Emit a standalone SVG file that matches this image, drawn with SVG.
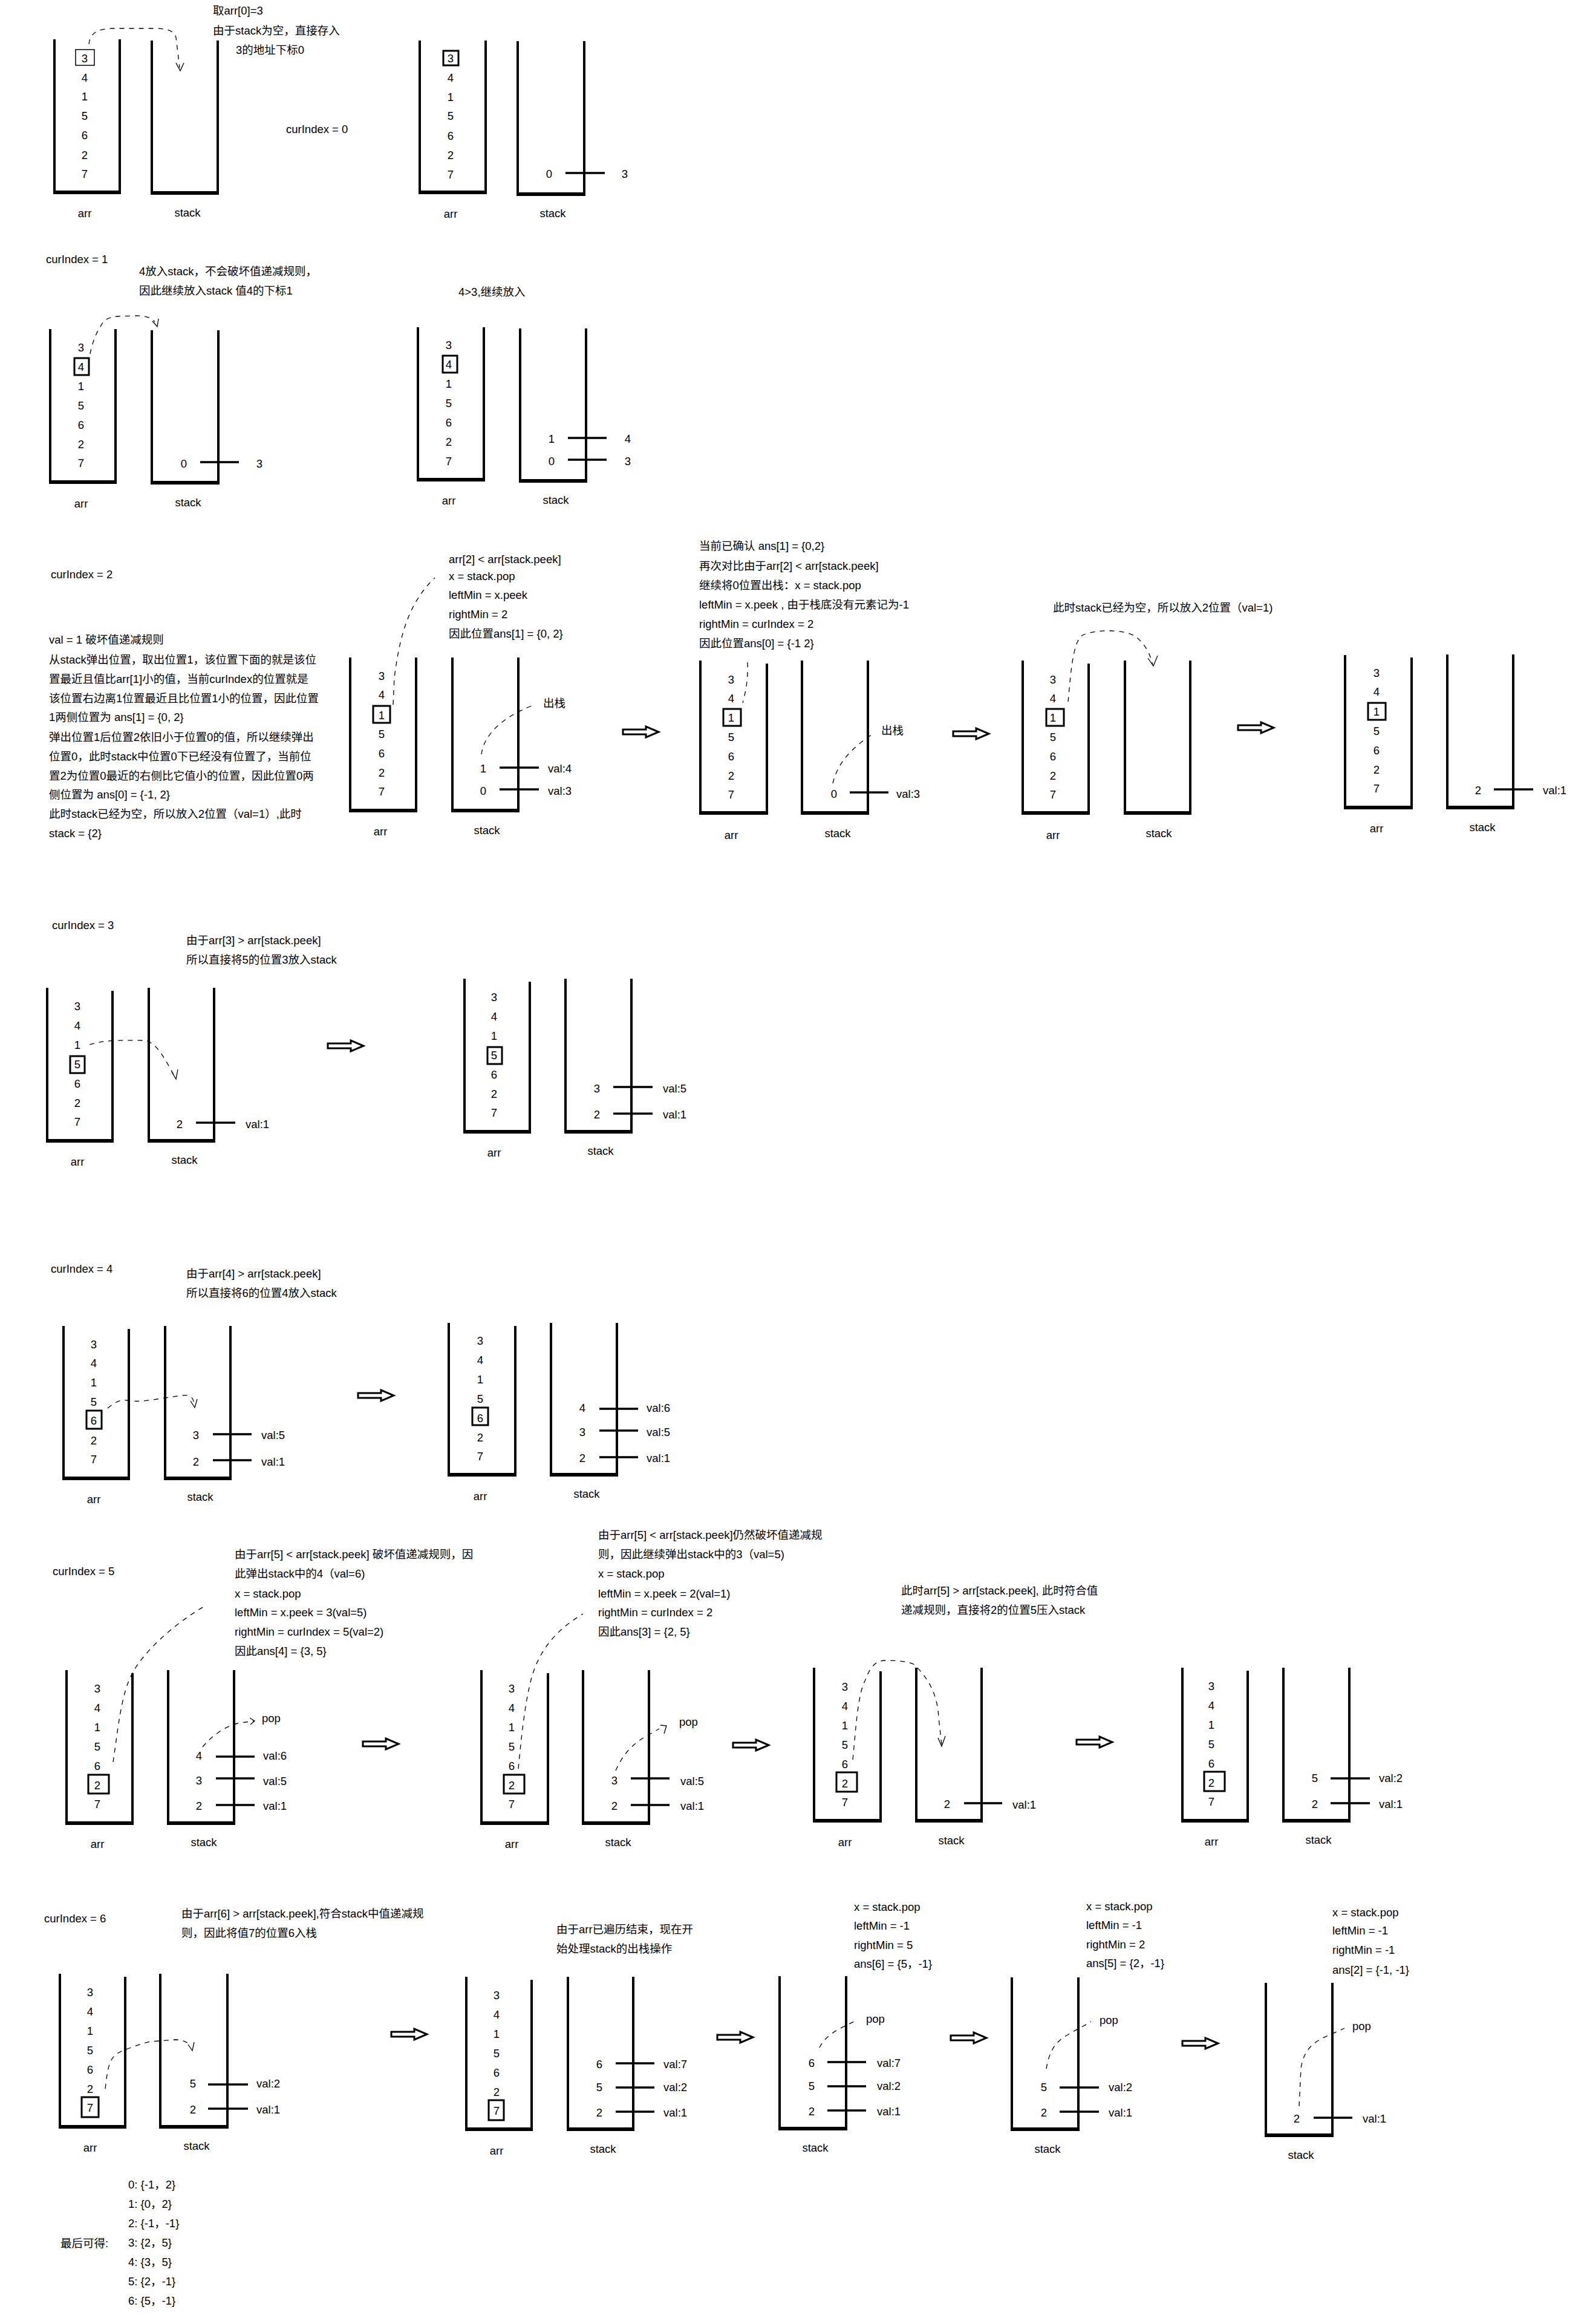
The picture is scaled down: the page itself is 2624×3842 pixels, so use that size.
<svg xmlns="http://www.w3.org/2000/svg" width="2624" height="3842" viewBox="0 0 2624 3842">
<style>
.w{fill:none;stroke:#000;stroke-width:4}
.b{stroke:#000;stroke-width:6}
.t{font-family:"Liberation Sans","Noto Sans CJK SC",sans-serif;font-size:18.5px;fill:#000;dominant-baseline:central}
.m{text-anchor:middle}
.bx{fill:none;stroke:#000;stroke-width:3}
.tk{stroke:#000;stroke-width:3.5}
.d{fill:none;stroke:#000;stroke-width:1.3;stroke-dasharray:8 8}
.h{fill:none;stroke:#000;stroke-width:1.3}
</style>
<defs>
<path id="ba" d="M0,-4H38V-9L59,0L38,9V4H0Z" fill="#fff" stroke="#000" stroke-width="3"/>
</defs>
<rect width="2624" height="3842" fill="#fff"/>

<!-- ===== Section 1 ===== -->
<g id="s1-text">
<text class="t" x="352" y="17">取arr[0]=3</text>
<text class="t" x="352" y="50">由于stack为空，直接存入</text>
<text class="t" x="390" y="82">3的地址下标0</text>
<text class="t" x="473" y="213">curIndex = 0</text>
</g>
<g id="s1-arr-a">
<path class="w" d="M90,65V317H198V65"/><line class="b" x1="88" y1="318" x2="200" y2="318"/>
<text class="t m"><tspan x="140" y="96">3</tspan><tspan x="140" y="128">4</tspan><tspan x="140" y="159">1</tspan><tspan x="140" y="191">5</tspan><tspan x="140" y="223">6</tspan><tspan x="140" y="256">2</tspan><tspan x="140" y="287">7</tspan></text>
<rect x="125" y="82" width="31" height="26" fill="none" stroke="#000" stroke-width="1.5"/>
<text class="t m" x="140" y="352">arr</text>
</g>
<g id="s1-stack-a">
<path class="w" d="M251,67V318H360V67"/><line class="b" x1="249" y1="319" x2="362" y2="319"/>
<text class="t m" x="310" y="351">stack</text>
</g>
<g id="s1-arr-b">
<path class="w" d="M694,67V317H803V67"/><line class="b" x1="692" y1="318" x2="805" y2="318"/>
<text class="t m"><tspan x="745" y="96">3</tspan><tspan x="745" y="128">4</tspan><tspan x="745" y="160">1</tspan><tspan x="745" y="191">5</tspan><tspan x="745" y="224">6</tspan><tspan x="745" y="256">2</tspan><tspan x="745" y="288">7</tspan></text>
<rect class="bx" x="733" y="84" width="25" height="24"/>
<text class="t m" x="745" y="353">arr</text>
</g>
<g id="s1-stack-b">
<path class="w" d="M856,68V320H966V68"/><line class="b" x1="854" y1="321" x2="968" y2="321"/>
<text class="t m" x="908" y="287">0</text><line class="tk" x1="935" y1="286" x2="1000" y2="286"/><text class="t m" x="1033" y="287">3</text>
<text class="t m" x="914" y="352">stack</text>
</g>

<!-- ===== Section 2 ===== -->
<g id="s2-text">
<text class="t" x="76" y="428">curIndex = 1</text>
<text class="t" x="230" y="448">4放入stack，不会破坏值递减规则，</text>
<text class="t" x="230" y="480">因此继续放入stack 值4的下标1</text>
<text class="t" x="758" y="482">4&gt;3,继续放入</text>
</g>
<g id="s2-arr-a">
<path class="w" d="M83,544V796H191V544"/><line class="b" x1="81" y1="797" x2="193" y2="797"/>
<text class="t m"><tspan x="134" y="574">3</tspan><tspan x="134" y="606">4</tspan><tspan x="134" y="638">1</tspan><tspan x="134" y="670">5</tspan><tspan x="134" y="702">6</tspan><tspan x="134" y="734">2</tspan><tspan x="134" y="765">7</tspan></text>
<rect class="bx" x="123" y="592" width="24" height="28"/>
<text class="t m" x="134" y="832">arr</text>
</g>
<g id="s2-stack-a">
<path class="w" d="M251,546V797H361V546"/><line class="b" x1="249" y1="798" x2="363" y2="798"/>
<text class="t m" x="304" y="766">0</text><line class="tk" x1="331" y1="764" x2="395" y2="764"/><text class="t m" x="429" y="766">3</text>
<text class="t m" x="311" y="830">stack</text>
</g>
<g id="s2-arr-b">
<path class="w" d="M691,541V792H800V541"/><line class="b" x1="689" y1="793" x2="802" y2="793"/>
<text class="t m"><tspan x="742" y="570">3</tspan><tspan x="742" y="602">4</tspan><tspan x="742" y="634">1</tspan><tspan x="742" y="666">5</tspan><tspan x="742" y="698">6</tspan><tspan x="742" y="730">2</tspan><tspan x="742" y="762">7</tspan></text>
<rect class="bx" x="732" y="588" width="24" height="28"/>
<text class="t m" x="742" y="827">arr</text>
</g>
<g id="s2-stack-b">
<path class="w" d="M860,543V794H969V543"/><line class="b" x1="858" y1="795" x2="971" y2="795"/>
<text class="t m" x="912" y="725">1</text><line class="tk" x1="939" y1="724" x2="1003" y2="724"/><text class="t m" x="1038" y="725">4</text>
<text class="t m" x="912" y="762">0</text><line class="tk" x1="939" y1="760" x2="1003" y2="760"/><text class="t m" x="1038" y="762">3</text>
<text class="t m" x="919" y="826">stack</text>
</g>

<!-- ===== Section 3 ===== -->
<g id="s3-text">
<text class="t" x="84" y="949">curIndex = 2</text>
<text class="t" x="81" y="1057">val = 1 破坏值递减规则</text>
<text class="t" x="81" y="1090">从stack弹出位置，取出位置1，该位置下面的就是该位</text>
<text class="t" x="81" y="1122">置最近且值比arr[1]小的值，当前curIndex的位置就是</text>
<text class="t" x="81" y="1154">该位置右边离1位置最近且比位置1小的位置，因此位置</text>
<text class="t" x="81" y="1185">1两侧位置为 ans[1] = {0, 2}</text>
<text class="t" x="81" y="1218">弹出位置1后位置2依旧小于位置0的值，所以继续弹出</text>
<text class="t" x="81" y="1250">位置0，此时stack中位置0下已经没有位置了，当前位</text>
<text class="t" x="81" y="1282">置2为位置0最近的右侧比它值小的位置，因此位置0两</text>
<text class="t" x="81" y="1313">侧位置为 ans[0] = {-1, 2}</text>
<text class="t" x="81" y="1345">此时stack已经为空，所以放入2位置（val=1）,此时</text>
<text class="t" x="81" y="1377">stack = {2}</text>
<text class="t" x="742" y="924">arr[2] &lt; arr[stack.peek]</text>
<text class="t" x="742" y="952">x = stack.pop</text>
<text class="t" x="742" y="983">leftMin = x.peek</text>
<text class="t" x="742" y="1015">rightMin = 2</text>
<text class="t" x="742" y="1047">因此位置ans[1] = {0, 2}</text>
<text class="t" x="898" y="1162">出栈</text>
<text class="t" x="1156" y="902">当前已确认 ans[1] = {0,2}</text>
<text class="t" x="1156" y="935">再次对比由于arr[2] &lt; arr[stack.peek]</text>
<text class="t" x="1156" y="967">继续将0位置出栈：x = stack.pop</text>
<text class="t" x="1156" y="999">leftMin = x.peek , 由于栈底没有元素记为-1</text>
<text class="t" x="1156" y="1031">rightMin = curIndex = 2</text>
<text class="t" x="1156" y="1063">因此位置ans[0] = {-1 2}</text>
<text class="t" x="1457" y="1207">出栈</text>
<text class="t" x="1741" y="1004">此时stack已经为空，所以放入2位置（val=1)</text>
</g>
<g id="s3-arr-a">
<path class="w" d="M579,1087V1339H688V1087"/><line class="b" x1="577" y1="1340" x2="690" y2="1340"/>
<text class="t m"><tspan x="631" y="1117">3</tspan><tspan x="631" y="1148">4</tspan><tspan x="631" y="1182">1</tspan><tspan x="631" y="1213">5</tspan><tspan x="631" y="1245">6</tspan><tspan x="631" y="1277">2</tspan><tspan x="631" y="1308">7</tspan></text>
<rect class="bx" x="617" y="1167" width="28" height="28"/>
<text class="t m" x="629" y="1374">arr</text>
</g>
<g id="s3-stack-a">
<path class="w" d="M748,1087V1339H857V1087"/><line class="b" x1="746" y1="1340" x2="859" y2="1340"/>
<text class="t m" x="799" y="1270">1</text><line class="tk" x1="826" y1="1269" x2="891" y2="1269"/><text class="t" x="906" y="1270">val:4</text>
<text class="t m" x="799" y="1307">0</text><line class="tk" x1="826" y1="1305" x2="891" y2="1305"/><text class="t" x="906" y="1307">val:3</text>
<text class="t m" x="805" y="1372">stack</text>
</g>
<g id="s3-arr-b">
<path class="w" d="M1158,1092V1343H1268V1097"/><line class="b" x1="1156" y1="1344" x2="1270" y2="1344"/>
<text class="t m"><tspan x="1209" y="1123">3</tspan><tspan x="1209" y="1154">4</tspan><tspan x="1209" y="1186">1</tspan><tspan x="1209" y="1218">5</tspan><tspan x="1209" y="1250">6</tspan><tspan x="1209" y="1282">2</tspan><tspan x="1209" y="1313">7</tspan></text>
<rect class="bx" x="1196" y="1172" width="29" height="28"/>
<text class="t m" x="1209" y="1380">arr</text>
</g>
<g id="s3-stack-b">
<path class="w" d="M1326,1092V1343H1435V1092"/><line class="b" x1="1324" y1="1344" x2="1437" y2="1344"/>
<text class="t m" x="1379" y="1312">0</text><line class="tk" x1="1405" y1="1310" x2="1469" y2="1310"/><text class="t" x="1482" y="1312">val:3</text>
<text class="t m" x="1385" y="1377">stack</text>
</g>
<g id="s3-arr-c">
<path class="w" d="M1691,1092V1343H1800V1097"/><line class="b" x1="1689" y1="1344" x2="1802" y2="1344"/>
<text class="t m"><tspan x="1741" y="1123">3</tspan><tspan x="1741" y="1154">4</tspan><tspan x="1741" y="1186">1</tspan><tspan x="1741" y="1218">5</tspan><tspan x="1741" y="1250">6</tspan><tspan x="1741" y="1282">2</tspan><tspan x="1741" y="1313">7</tspan></text>
<rect class="bx" x="1730" y="1172" width="29" height="28"/>
<text class="t m" x="1741" y="1380">arr</text>
</g>
<g id="s3-stack-c">
<path class="w" d="M1860,1092V1343H1968V1092"/><line class="b" x1="1858" y1="1344" x2="1970" y2="1344"/>
<text class="t m" x="1916" y="1377">stack</text>
</g>
<g id="s3-arr-d">
<path class="w" d="M2224,1083V1334H2334V1087"/><line class="b" x1="2222" y1="1335" x2="2336" y2="1335"/>
<text class="t m"><tspan x="2276" y="1112">3</tspan><tspan x="2276" y="1143">4</tspan><tspan x="2276" y="1176">1</tspan><tspan x="2276" y="1208">5</tspan><tspan x="2276" y="1240">6</tspan><tspan x="2276" y="1272">2</tspan><tspan x="2276" y="1303">7</tspan></text>
<rect class="bx" x="2262" y="1162" width="29" height="28"/>
<text class="t m" x="2276" y="1369">arr</text>
</g>
<g id="s3-stack-d">
<path class="w" d="M2393,1082V1334H2502V1082"/><line class="b" x1="2391" y1="1335" x2="2504" y2="1335"/>
<text class="t m" x="2444" y="1306">2</text><line class="tk" x1="2470" y1="1305" x2="2535" y2="1305"/><text class="t" x="2551" y="1306">val:1</text>
<text class="t m" x="2451" y="1367">stack</text>
</g>

<!-- ===== Section 4 ===== -->
<g id="s4-text">
<text class="t" x="86" y="1529">curIndex = 3</text>
<text class="t" x="308" y="1554">由于arr[3] &gt; arr[stack.peek]</text>
<text class="t" x="308" y="1586">所以直接将5的位置3放入stack</text>
</g>
<g id="s4-arr-a">
<path class="w" d="M78,1633V1885H186V1638"/><line class="b" x1="76" y1="1886" x2="188" y2="1886"/>
<text class="t m"><tspan x="128" y="1663">3</tspan><tspan x="128" y="1695">4</tspan><tspan x="128" y="1727">1</tspan><tspan x="128" y="1759">5</tspan><tspan x="128" y="1791">6</tspan><tspan x="128" y="1823">2</tspan><tspan x="128" y="1854">7</tspan></text>
<rect class="bx" x="116" y="1746" width="24" height="28"/>
<text class="t m" x="128" y="1920">arr</text>
</g>
<g id="s4-stack-a">
<path class="w" d="M246,1633V1885H354V1633"/><line class="b" x1="244" y1="1886" x2="356" y2="1886"/>
<text class="t m" x="297" y="1858">2</text><line class="tk" x1="324" y1="1856" x2="389" y2="1856"/><text class="t" x="406" y="1858">val:1</text>
<text class="t m" x="305" y="1917">stack</text>
</g>
<g id="s4-arr-b">
<path class="w" d="M768,1618V1870H876V1623"/><line class="b" x1="766" y1="1871" x2="878" y2="1871"/>
<text class="t m"><tspan x="817" y="1648">3</tspan><tspan x="817" y="1680">4</tspan><tspan x="817" y="1712">1</tspan><tspan x="817" y="1744">5</tspan><tspan x="817" y="1776">6</tspan><tspan x="817" y="1808">2</tspan><tspan x="817" y="1839">7</tspan></text>
<rect class="bx" x="806" y="1731" width="24" height="28"/>
<text class="t m" x="817" y="1905">arr</text>
</g>
<g id="s4-stack-b">
<path class="w" d="M935,1618V1870H1044V1618"/><line class="b" x1="933" y1="1871" x2="1046" y2="1871"/>
<text class="t m" x="987" y="1799">3</text><line class="tk" x1="1014" y1="1797" x2="1079" y2="1797"/><text class="t" x="1096" y="1799">val:5</text>
<text class="t m" x="987" y="1842">2</text><line class="tk" x1="1014" y1="1841" x2="1079" y2="1841"/><text class="t" x="1096" y="1842">val:1</text>
<text class="t m" x="993" y="1902">stack</text>
</g>

<!-- ===== Section 5 ===== -->
<g id="s5-text">
<text class="t" x="84" y="2097">curIndex = 4</text>
<text class="t" x="308" y="2105">由于arr[4] &gt; arr[stack.peek]</text>
<text class="t" x="308" y="2137">所以直接将6的位置4放入stack</text>
</g>
<g id="s5-arr-a">
<path class="w" d="M105,2192V2443H213V2197"/><line class="b" x1="103" y1="2444" x2="215" y2="2444"/>
<text class="t m"><tspan x="155" y="2222">3</tspan><tspan x="155" y="2253">4</tspan><tspan x="155" y="2285">1</tspan><tspan x="155" y="2317">5</tspan><tspan x="155" y="2348">6</tspan><tspan x="155" y="2381">2</tspan><tspan x="155" y="2412">7</tspan></text>
<rect class="bx" x="143" y="2332" width="25" height="30"/>
<text class="t m" x="155" y="2478">arr</text>
</g>
<g id="s5-stack-a">
<path class="w" d="M273,2192V2443H381V2192"/><line class="b" x1="271" y1="2444" x2="383" y2="2444"/>
<text class="t m" x="324" y="2372">3</text><line class="tk" x1="352" y1="2371" x2="416" y2="2371"/><text class="t" x="432" y="2372">val:5</text>
<text class="t m" x="324" y="2416">2</text><line class="tk" x1="352" y1="2414" x2="416" y2="2414"/><text class="t" x="432" y="2416">val:1</text>
<text class="t m" x="331" y="2474">stack</text>
</g>
<g id="s5-arr-b">
<path class="w" d="M742,2187V2437H852V2192"/><line class="b" x1="740" y1="2438" x2="854" y2="2438"/>
<text class="t m"><tspan x="794" y="2216">3</tspan><tspan x="794" y="2248">4</tspan><tspan x="794" y="2280">1</tspan><tspan x="794" y="2312">5</tspan><tspan x="794" y="2344">6</tspan><tspan x="794" y="2376">2</tspan><tspan x="794" y="2407">7</tspan></text>
<rect class="bx" x="781" y="2327" width="26" height="29"/>
<text class="t m" x="794" y="2473">arr</text>
</g>
<g id="s5-stack-b">
<path class="w" d="M911,2187V2437H1020V2187"/><line class="b" x1="909" y1="2438" x2="1022" y2="2438"/>
<text class="t m" x="963" y="2327">4</text><line class="tk" x1="991" y1="2329" x2="1055" y2="2329"/><text class="t" x="1069" y="2327">val:6</text>
<text class="t m" x="963" y="2367">3</text><line class="tk" x1="991" y1="2365" x2="1055" y2="2365"/><text class="t" x="1069" y="2367">val:5</text>
<text class="t m" x="963" y="2410">2</text><line class="tk" x1="991" y1="2409" x2="1055" y2="2409"/><text class="t" x="1069" y="2410">val:1</text>
<text class="t m" x="970" y="2469">stack</text>
</g>

<!-- ===== Section 6 ===== -->
<g id="s6-text">
<text class="t" x="87" y="2597">curIndex = 5</text>
<text class="t" x="388" y="2569">由于arr[5] &lt; arr[stack.peek] 破坏值递减规则，因</text>
<text class="t" x="388" y="2601">此弹出stack中的4（val=6)</text>
<text class="t" x="388" y="2634">x = stack.pop</text>
<text class="t" x="388" y="2665">leftMin = x.peek = 3(val=5)</text>
<text class="t" x="388" y="2697">rightMin = curIndex = 5(val=2)</text>
<text class="t" x="388" y="2729">因此ans[4] = {3, 5}</text>
<text class="t" x="433" y="2840">pop</text>
<text class="t" x="989" y="2537">由于arr[5] &lt; arr[stack.peek]仍然破坏值递减规</text>
<text class="t" x="989" y="2569">则，因此继续弹出stack中的3（val=5)</text>
<text class="t" x="989" y="2601">x = stack.pop</text>
<text class="t" x="989" y="2634">leftMin = x.peek = 2(val=1)</text>
<text class="t" x="989" y="2665">rightMin = curIndex = 2</text>
<text class="t" x="989" y="2697">因此ans[3] = {2, 5}</text>
<text class="t" x="1123" y="2846">pop</text>
<text class="t" x="1490" y="2629">此时arr[5] &gt; arr[stack.peek], 此时符合值</text>
<text class="t" x="1490" y="2661">递减规则，直接将2的位置5压入stack</text>
</g>
<g id="s6-arr-a">
<path class="w" d="M110,2761V3013H219V2766"/><line class="b" x1="108" y1="3014" x2="221" y2="3014"/>
<text class="t m"><tspan x="161" y="2791">3</tspan><tspan x="161" y="2823">4</tspan><tspan x="161" y="2855">1</tspan><tspan x="161" y="2887">5</tspan><tspan x="161" y="2919">6</tspan><tspan x="161" y="2951">2</tspan><tspan x="161" y="2982">7</tspan></text>
<rect class="bx" x="146" y="2934" width="34" height="31"/>
<text class="t m" x="161" y="3048">arr</text>
</g>
<g id="s6-stack-a">
<path class="w" d="M278,2761V3013H387V2761"/><line class="b" x1="276" y1="3014" x2="389" y2="3014"/>
<text class="t m" x="329" y="2902">4</text><line class="tk" x1="357" y1="2904" x2="421" y2="2904"/><text class="t" x="435" y="2902">val:6</text>
<text class="t m" x="329" y="2943">3</text><line class="tk" x1="357" y1="2940" x2="421" y2="2940"/><text class="t" x="435" y="2944">val:5</text>
<text class="t m" x="329" y="2985">2</text><line class="tk" x1="357" y1="2984" x2="421" y2="2984"/><text class="t" x="435" y="2985">val:1</text>
<text class="t m" x="337" y="3045">stack</text>
</g>
<g id="s6-arr-b">
<path class="w" d="M796,2761V3013H906V2766"/><line class="b" x1="794" y1="3014" x2="908" y2="3014"/>
<text class="t m"><tspan x="846" y="2791">3</tspan><tspan x="846" y="2823">4</tspan><tspan x="846" y="2855">1</tspan><tspan x="846" y="2887">5</tspan><tspan x="846" y="2919">6</tspan><tspan x="846" y="2951">2</tspan><tspan x="846" y="2982">7</tspan></text>
<rect class="bx" x="833" y="2934" width="34" height="31"/>
<text class="t m" x="846" y="3048">arr</text>
</g>
<g id="s6-stack-b">
<path class="w" d="M964,2761V3013H1073V2761"/><line class="b" x1="962" y1="3014" x2="1075" y2="3014"/>
<text class="t m" x="1016" y="2943">3</text><line class="tk" x1="1043" y1="2940" x2="1107" y2="2940"/><text class="t" x="1125" y="2944">val:5</text>
<text class="t m" x="1016" y="2985">2</text><line class="tk" x1="1043" y1="2984" x2="1107" y2="2984"/><text class="t" x="1125" y="2985">val:1</text>
<text class="t m" x="1022" y="3045">stack</text>
</g>
<g id="s6-arr-c">
<path class="w" d="M1346,2757V3009H1456V2763"/><line class="b" x1="1344" y1="3010" x2="1458" y2="3010"/>
<text class="t m"><tspan x="1397" y="2788">3</tspan><tspan x="1397" y="2820">4</tspan><tspan x="1397" y="2852">1</tspan><tspan x="1397" y="2884">5</tspan><tspan x="1397" y="2916">6</tspan><tspan x="1397" y="2948">2</tspan><tspan x="1397" y="2979">7</tspan></text>
<rect class="bx" x="1383" y="2930" width="34" height="32"/>
<text class="t m" x="1397" y="3045">arr</text>
</g>
<g id="s6-stack-c">
<path class="w" d="M1515,2757V3009H1623V2757"/><line class="b" x1="1513" y1="3010" x2="1625" y2="3010"/>
<text class="t m" x="1566" y="2982">2</text><line class="tk" x1="1594" y1="2981" x2="1657" y2="2981"/><text class="t" x="1674" y="2983">val:1</text>
<text class="t m" x="1573" y="3042">stack</text>
</g>
<g id="s6-arr-d">
<path class="w" d="M1955,2757V3009H2063V2762"/><line class="b" x1="1953" y1="3010" x2="2065" y2="3010"/>
<text class="t m"><tspan x="2003" y="2787">3</tspan><tspan x="2003" y="2819">4</tspan><tspan x="2003" y="2851">1</tspan><tspan x="2003" y="2883">5</tspan><tspan x="2003" y="2915">6</tspan><tspan x="2003" y="2947">2</tspan><tspan x="2003" y="2978">7</tspan></text>
<rect class="bx" x="1991" y="2929" width="34" height="32"/>
<text class="t m" x="2003" y="3044">arr</text>
</g>
<g id="s6-stack-d">
<path class="w" d="M2122,2757V3009H2231V2757"/><line class="b" x1="2120" y1="3010" x2="2233" y2="3010"/>
<text class="t m" x="2174" y="2939">5</text><line class="tk" x1="2200" y1="2940" x2="2265" y2="2940"/><text class="t" x="2280" y="2939">val:2</text>
<text class="t m" x="2174" y="2982">2</text><line class="tk" x1="2200" y1="2981" x2="2265" y2="2981"/><text class="t" x="2280" y="2982">val:1</text>
<text class="t m" x="2180" y="3041">stack</text>
</g>

<!-- ===== Section 7 ===== -->
<g id="s7-text">
<text class="t" x="73" y="3171">curIndex = 6</text>
<text class="t" x="300" y="3163">由于arr[6] &gt; arr[stack.peek],符合stack中值递减规</text>
<text class="t" x="300" y="3195">则，因此将值7的位置6入栈</text>
<text class="t" x="920" y="3189">由于arr已遍历结束，现在开</text>
<text class="t" x="920" y="3221">始处理stack的出栈操作</text>
<text class="t" x="1412" y="3152">x = stack.pop</text>
<text class="t" x="1412" y="3183">leftMin = -1</text>
<text class="t" x="1412" y="3215">rightMin = 5</text>
<text class="t" x="1412" y="3246">ans[6] = {5，-1}</text>
<text class="t" x="1432" y="3337">pop</text>
<text class="t" x="1796" y="3151">x = stack.pop</text>
<text class="t" x="1796" y="3182">leftMin = -1</text>
<text class="t" x="1796" y="3214">rightMin = 2</text>
<text class="t" x="1796" y="3245">ans[5] = {2，-1}</text>
<text class="t" x="1818" y="3339">pop</text>
<text class="t" x="2203" y="3161">x = stack.pop</text>
<text class="t" x="2203" y="3191">leftMin = -1</text>
<text class="t" x="2203" y="3223">rightMin = -1</text>
<text class="t" x="2203" y="3256">ans[2] = {-1, -1}</text>
<text class="t" x="2236" y="3349">pop</text>
</g>
<g id="s7-arr-a">
<path class="w" d="M99,3263V3515H207V3268"/><line class="b" x1="97" y1="3516" x2="209" y2="3516"/>
<text class="t m"><tspan x="149" y="3293">3</tspan><tspan x="149" y="3325">4</tspan><tspan x="149" y="3357">1</tspan><tspan x="149" y="3389">5</tspan><tspan x="149" y="3421">6</tspan><tspan x="149" y="3453">2</tspan><tspan x="149" y="3484">7</tspan></text>
<rect class="bx" x="135" y="3467" width="28" height="33"/>
<text class="t m" x="149" y="3550">arr</text>
</g>
<g id="s7-stack-a">
<path class="w" d="M265,3263V3515H376V3263"/><line class="b" x1="263" y1="3516" x2="378" y2="3516"/>
<text class="t m" x="319" y="3444">5</text><line class="tk" x1="344" y1="3446" x2="410" y2="3446"/><text class="t" x="424" y="3444">val:2</text>
<text class="t m" x="319" y="3487">2</text><line class="tk" x1="344" y1="3486" x2="410" y2="3486"/><text class="t" x="424" y="3487">val:1</text>
<text class="t m" x="325" y="3547">stack</text>
</g>
<g id="s7-arr-b">
<path class="w" d="M771,3268V3519H879V3273"/><line class="b" x1="769" y1="3520" x2="881" y2="3520"/>
<text class="t m"><tspan x="821" y="3298">3</tspan><tspan x="821" y="3330">4</tspan><tspan x="821" y="3362">1</tspan><tspan x="821" y="3394">5</tspan><tspan x="821" y="3426">6</tspan><tspan x="821" y="3458">2</tspan><tspan x="821" y="3489">7</tspan></text>
<rect class="bx" x="808" y="3472" width="25" height="33"/>
<text class="t m" x="821" y="3555">arr</text>
</g>
<g id="s7-stack-b">
<path class="w" d="M939,3268V3519H1047V3268"/><line class="b" x1="937" y1="3520" x2="1049" y2="3520"/>
<text class="t m" x="991" y="3412">6</text><line class="tk" x1="1018" y1="3411" x2="1082" y2="3411"/><text class="t" x="1097" y="3412">val:7</text>
<text class="t m" x="991" y="3450">5</text><line class="tk" x1="1018" y1="3451" x2="1082" y2="3451"/><text class="t" x="1097" y="3450">val:2</text>
<text class="t m" x="991" y="3492">2</text><line class="tk" x1="1018" y1="3491" x2="1082" y2="3491"/><text class="t" x="1097" y="3492">val:1</text>
<text class="t m" x="997" y="3552">stack</text>
</g>
<g id="s7-stack-c">
<path class="w" d="M1289,3267V3518H1399V3267"/><line class="b" x1="1287" y1="3519" x2="1401" y2="3519"/>
<text class="t m" x="1342" y="3410">6</text><line class="tk" x1="1368" y1="3409" x2="1432" y2="3409"/><text class="t" x="1450" y="3410">val:7</text>
<text class="t m" x="1342" y="3448">5</text><line class="tk" x1="1368" y1="3449" x2="1432" y2="3449"/><text class="t" x="1450" y="3448">val:2</text>
<text class="t m" x="1342" y="3490">2</text><line class="tk" x1="1368" y1="3489" x2="1432" y2="3489"/><text class="t" x="1450" y="3490">val:1</text>
<text class="t m" x="1348" y="3550">stack</text>
</g>
<g id="s7-stack-d">
<path class="w" d="M1673,3269V3519H1783V3269"/><line class="b" x1="1671" y1="3520" x2="1785" y2="3520"/>
<text class="t m" x="1726" y="3450">5</text><line class="tk" x1="1752" y1="3451" x2="1817" y2="3451"/><text class="t" x="1833" y="3450">val:2</text>
<text class="t m" x="1726" y="3492">2</text><line class="tk" x1="1752" y1="3491" x2="1817" y2="3491"/><text class="t" x="1833" y="3492">val:1</text>
<text class="t m" x="1732" y="3552">stack</text>
</g>
<g id="s7-stack-e">
<path class="w" d="M2093,3278V3529H2203V3278"/><line class="b" x1="2091" y1="3530" x2="2205" y2="3530"/>
<text class="t m" x="2144" y="3502">2</text><line class="tk" x1="2172" y1="3501" x2="2236" y2="3501"/><text class="t" x="2253" y="3502">val:1</text>
<text class="t m" x="2151" y="3562">stack</text>
</g>

<!-- ===== Result ===== -->
<g id="result">
<text class="t" x="100" y="3708">最后可得:</text>
<text class="t" x="212" y="3611">0: {-1，2}</text>
<text class="t" x="212" y="3643">1: {0，2}</text>
<text class="t" x="212" y="3675">2: {-1，-1}</text>
<text class="t" x="212" y="3707">3: {2，5}</text>
<text class="t" x="212" y="3739">4: {3，5}</text>
<text class="t" x="212" y="3771">5: {2，-1}</text>
<text class="t" x="212" y="3803">6: {5，-1}</text>
</g>

<!-- ===== Connectors ===== -->
<g id="connectors">
<path class="d" d="M147,73 C149,55 160,48 185,47 L255,47 C280,47 288,52 291,62 L297,112"/>
<path class="h" d="M291,104 L298,117 L304,104"/>
<path class="d" d="M149,585 C152,568 160,548 166,540 C172,528 180,524 195,523 L225,522 C240,522 250,525 256,532"/>
<path class="h" d="M252,531 L260,540 L262,527"/>
<path class="d" d="M650,1165 L652,1120 C660,1060 672,1000 719,955"/>
<path class="d" d="M796,1247 C800,1215 830,1185 884,1165"/>
<use href="#ba" x="1030" y="1210"/>
<path class="d" d="M1236,1095 C1237,1120 1234,1140 1228,1162"/>
<path class="d" d="M1377,1295 C1385,1260 1410,1235 1445,1212"/>
<use href="#ba" x="1576" y="1213"/>
<path class="d" d="M1766,1160 C1770,1120 1773,1060 1790,1050 C1810,1040 1860,1040 1877,1052 C1895,1065 1903,1085 1906,1100"/>
<path class="h" d="M1898,1088 L1907,1101 L1914,1084"/>
<use href="#ba" x="2047" y="1203"/>
<path class="d" d="M148,1727 C175,1718 210,1720 240,1720 C258,1724 270,1745 290,1782"/>
<path class="h" d="M284,1772 L291,1784 L294,1768"/>
<use href="#ba" x="542" y="1729"/>
<path class="d" d="M178,2328 C190,2318 200,2313 210,2315 C225,2318 240,2316 260,2313 L300,2307 C315,2305 320,2310 321,2322"/>
<path class="h" d="M315,2316 L322,2327 L326,2313"/>
<use href="#ba" x="592" y="2307"/>
<path class="d" d="M187,2913 C195,2860 200,2800 219,2766 C235,2735 280,2690 337,2656"/>
<path class="d" d="M335,2888 C350,2870 370,2855 393,2849 L420,2845"/>
<path class="h" d="M413,2840 L421,2845 L414,2851"/>
<use href="#ba" x="600" y="2883"/>
<path class="d" d="M857,2924 C862,2870 868,2820 875,2790 C885,2740 910,2700 964,2668"/>
<path class="d" d="M1018,2927 C1030,2900 1045,2885 1062,2874 L1090,2858"/>
<path class="h" d="M1092,2852 L1102,2853 L1098,2866"/>
<use href="#ba" x="1212" y="2885"/>
<path class="d" d="M1410,2909 C1415,2860 1418,2800 1431,2777 C1440,2752 1450,2745 1465,2745 C1490,2745 1505,2748 1512,2752 C1535,2775 1550,2800 1552,2840 L1557,2884"/>
<path class="h" d="M1551,2873 L1557,2887 L1563,2870"/>
<use href="#ba" x="1780" y="2880"/>
<path class="d" d="M174,3453 C178,3420 180,3400 199,3392 C215,3385 235,3378 249,3375 L290,3372 C300,3372 310,3375 314,3382"/>
<path class="h" d="M311,3380 L318,3390 L321,3376"/>
<use href="#ba" x="647" y="3363"/>
<use href="#ba" x="1186" y="3368"/>
<path class="d" d="M1355,3385 C1365,3365 1385,3355 1400,3348 L1416,3340"/>
<use href="#ba" x="1572" y="3369"/>
<path class="d" d="M1730,3420 C1735,3390 1745,3375 1767,3363 C1785,3352 1795,3348 1804,3342"/>
<use href="#ba" x="1955" y="3378"/>
<path class="d" d="M2148,3482 L2151,3420 C2155,3390 2170,3375 2201,3363 L2223,3353"/>
</g>
</svg>
